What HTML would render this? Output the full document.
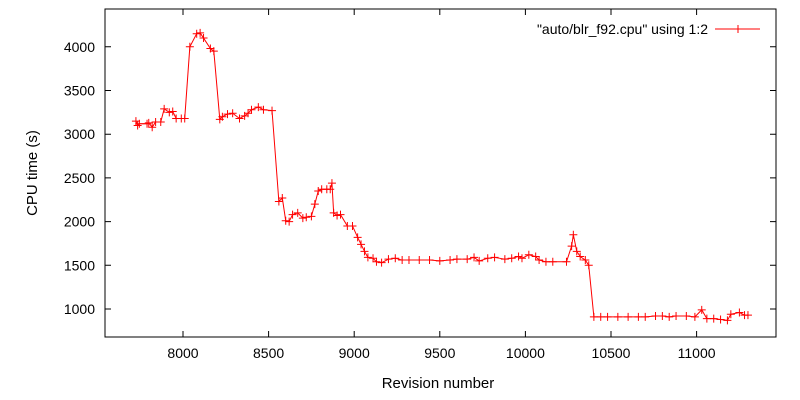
<!DOCTYPE html>
<html><head><meta charset="utf-8"><style>
body{margin:0;background:#fff;}
svg{display:block;font-family:"Liberation Sans",sans-serif;}
</style></head><body>
<svg id="chart" width="800" height="400">
<rect x="105" y="9" width="671" height="328" fill="none" stroke="#000" stroke-width="1"/>
<g id="axes"></g>
<polyline id="series" fill="none" stroke="#f00" stroke-width="1"/>
<g id="marks" stroke="#f00" stroke-width="1"></g>
<text x="708" y="34" text-anchor="end" font-size="14">"auto/blr_f92.cpu" using 1:2</text>
<line x1="715" y1="29" x2="760" y2="29" stroke="#f00"/>
<path d="M734 29h8M738 25v8" stroke="#f00"/>
<text x="438" y="388" text-anchor="middle" font-size="15">Revision number</text>
<text transform="translate(37,173) rotate(-90)" text-anchor="middle" font-size="15">CPU time (s)</text>
</svg>
<script>
const revisions=[7725,7735,7745,7790,7800,7820,7840,7870,7890,7920,7940,7960,7990,8010,8040,8080,8100,8120,8160,8180,8215,8230,8260,8290,8330,8360,8380,8400,8440,8470,8520,8560,8580,8600,8620,8640,8670,8700,8720,8750,8770,8790,8810,8840,8860,8870,8880,8900,8920,8960,8990,9020,9040,9060,9080,9110,9130,9160,9200,9240,9280,9320,9380,9440,9500,9560,9600,9660,9700,9730,9780,9820,9880,9920,9960,9980,10020,10060,10080,10120,10160,10240,10270,10280,10300,10320,10350,10370,10400,10440,10480,10540,10600,10660,10700,10760,10800,10840,10880,10940,10990,11030,11060,11100,11140,11180,11200,11250,11280,11300];
const cpuTimes=[3150,3100,3120,3120,3130,3080,3140,3140,3290,3250,3260,3180,3180,3180,4000,4150,4160,4100,3980,3950,3170,3200,3230,3240,3180,3210,3240,3280,3310,3280,3270,2230,2270,2010,2000,2080,2100,2040,2050,2060,2200,2350,2370,2370,2370,2440,2100,2070,2080,1950,1950,1820,1740,1660,1590,1580,1540,1530,1570,1580,1560,1560,1560,1560,1550,1560,1570,1570,1590,1550,1580,1590,1570,1580,1600,1580,1620,1600,1560,1540,1540,1540,1720,1850,1660,1600,1560,1500,910,910,910,910,910,910,910,920,920,910,920,920,910,990,890,890,880,870,940,960,930,930];
const xTicks=[8000,8500,9000,9500,10000,10500,11000];
const yTicks=[1000,1500,2000,2500,3000,3500,4000];
const X=v=>183+(v-8000)*0.1712;
const Y=v=>309-(v-1000)*0.0874;
const NS="http://www.w3.org/2000/svg";
const axes=document.getElementById('axes');
function mk(tag,attrs,parent){const e=document.createElementNS(NS,tag);for(const k in attrs)e.setAttribute(k,attrs[k]);parent.appendChild(e);return e;}
xTicks.forEach(t=>{
  const x=X(t);
  const l=mk('path',{d:`M${x} 337v-6M${x} 9v6`,stroke:'#000'},axes);
  
  
  const tx=mk('text',{x:x,y:358,'text-anchor':'middle','font-size':14},axes);
  tx.textContent=t;
  
  
});
yTicks.forEach(t=>{
  const y=Y(t);
  const l=mk('path',{d:`M105 ${y}h6M776 ${y}h-6`,stroke:'#000'},axes);
  
  
  const tx=mk('text',{x:95,y:y+5,'text-anchor':'end','font-size':14},axes);
  tx.textContent=t;
  
  
});
document.getElementById('series').setAttribute('points',revisions.map((r,i)=>X(r)+','+Y(cpuTimes[i])).join(' '));
const marks=document.getElementById('marks');
revisions.forEach((r,i)=>{
  const x=X(r),y=Y(cpuTimes[i]);
  const p=mk('path',{d:`M${x-4} ${y}h8M${x} ${y-4}v8`},marks);
  
  
});
</script>
</body></html>
